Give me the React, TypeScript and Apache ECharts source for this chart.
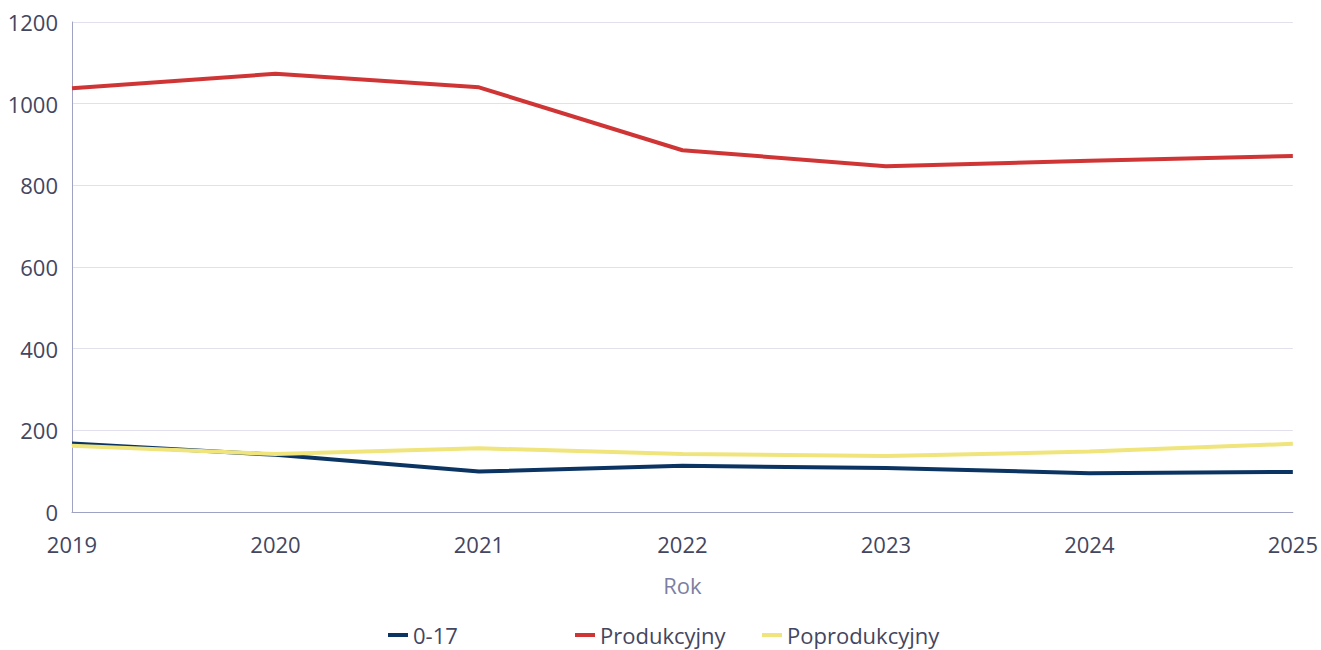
import React, { useEffect, useRef } from "react";
import * as echarts from "echarts";

const years = ["2019", "2020", "2021", "2022", "2023", "2024", "2025"];
const age017 = [168, 140, 99, 113, 108, 95, 98];
const produkcyjny = [1038, 1073, 1040, 886, 847, 860, 872];
const poprodukcyjny = [162, 142, 156, 142, 137, 148, 167];
const seriesNames = ["0-17", "Produkcyjny", "Poprodukcyjny"];
const colors = ["#0b3463", "#d03536", "#efe57c"];
const legendLefts = [383, 570, 757];

export default function App() {
  const ref = useRef<HTMLDivElement>(null);
  useEffect(() => {
    if (!ref.current) return;
    const chart = echarts.init(ref.current, undefined, { renderer: "svg" });
    const font = "'Open Sans', 'Noto Sans', sans-serif";
    chart.setOption({
      animation: false,
      color: colors,
      textStyle: { fontFamily: font },
      grid: { left: 72, right: 26, top: 22, bottom: 138, containLabel: false },
      legend: seriesNames.map((n, i) => ({
        left: legendLefts[i],
        top: 622,
        padding: [0, 5],
        icon: "rect",
        itemWidth: 20,
        itemHeight: 4,
        textStyle: { fontSize: 22, color: "#43465f", fontFamily: font, lineHeight: 26 },
        data: [n],
      })),
      xAxis: {
        type: "category",
        data: years,
        boundaryGap: false,
        name: "Rok",
        nameLocation: "middle",
        nameGap: 62,
        nameTextStyle: { fontSize: 22, color: "#7c7fa3", fontFamily: font },
        axisLine: { show: true, lineStyle: { color: "#9fa2c2", width: 1 } },
        axisTick: { show: false },
        axisLabel: { fontSize: 22, color: "#43465f", margin: 21, fontFamily: font, showMinLabel: true, showMaxLabel: true },
        splitLine: { show: false },
      },
      yAxis: {
        type: "value",
        min: 0,
        max: 1200,
        interval: 200,
        axisLine: { show: true, lineStyle: { color: "#9fa2c2", width: 1 } },
        axisTick: { show: false },
        axisLabel: { fontSize: 22, color: "#43465f", margin: 14, fontFamily: font, formatter: (v: number) => String(v) },
        splitLine: { lineStyle: { color: "#e1e1ee", width: 1 } },
      },
      series: [
        { name: seriesNames[0], type: "line", data: age017, symbol: "none", lineStyle: { width: 4 } },
        { name: seriesNames[1], type: "line", data: produkcyjny, symbol: "none", lineStyle: { width: 4 } },
        { name: seriesNames[2], type: "line", data: poprodukcyjny, symbol: "none", lineStyle: { width: 4 } },
      ],
    });
    return () => chart.dispose();
  }, []);
  return (
    <div
      ref={ref}
      style={{ position: "fixed", left: 0, top: 0, width: 1321, height: 650, background: "#fff" }}
    />
  );
}
